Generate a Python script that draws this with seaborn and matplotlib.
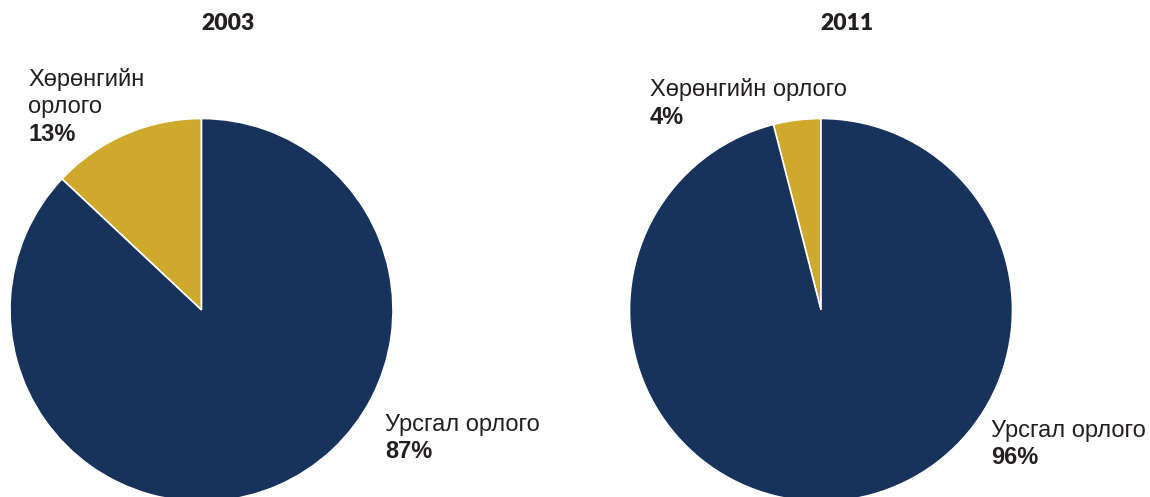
import matplotlib
matplotlib.use("Agg")
import matplotlib.pyplot as plt
import seaborn as sns

sns.set_theme(style="white")
plt.rcParams["font.family"] = ["Liberation Sans", "DejaVu Sans"]

# Income structure by year
years = ["2003", "2011"]
categories = ["Хөрөнгийн орлого", "Урсгал орлого"]
shares_2003 = [13, 87]
shares_2011 = [4, 96]
colors = sns.color_palette(["#CFA92B", "#17325B"])

W, H = 1150, 497
fig = plt.figure(figsize=(W / 100, H / 100), dpi=100)
fig.patch.set_facecolor("white")

def px(x, y):
    return x / W, 1 - y / H

txt = "#231F20"
FS = 17

def label(x, y, lines, pct):
    for i, line in enumerate(lines):
        fig.text(*px(x, y + i * 27.5), line, fontsize=FS, color=txt,
                 va="baseline", ha="left")
    fig.text(*px(x, y + len(lines) * 27.5), pct, fontsize=FS, color=txt,
             fontweight="bold", va="baseline", ha="left")

R = 191.5
centers = [(201.5, 310), (821, 310)]
data = [shares_2003, shares_2011]
for (cx, cy), vals, yr in zip(centers, data, years):
    ax = fig.add_axes([(cx - R) / W, (H - cy - R) / H, 2 * R / W, 2 * R / H])
    ax.pie(vals, colors=colors, startangle=90, counterclock=True, radius=1,
           wedgeprops=dict(edgecolor="white", linewidth=1.2))
    ax.set_xlim(-1, 1)
    ax.set_ylim(-1, 1)
    ax.set_aspect("equal")
    ax.axis("off")
    for w in ax.patches:
        w.set_clip_on(False)
    fig.text(*px(cx + 26, 30), yr, fontsize=16.5, fontweight="heavy",
             family=["Lato", "DejaVu Sans"], color=txt, ha="center", va="baseline")

# Category labels
label(28, 86, ["Хөрөнгийн", "орлого"], f"{shares_2003[0]}%")
label(385, 431, ["Урсгал орлого"], f"{shares_2003[1]}%")
label(650, 96, ["Хөрөнгийн орлого"], f"{shares_2011[0]}%")
label(991, 437, ["Урсгал орлого"], f"{shares_2011[1]}%")

fig.savefig("out.png", dpi=100, facecolor="white")
